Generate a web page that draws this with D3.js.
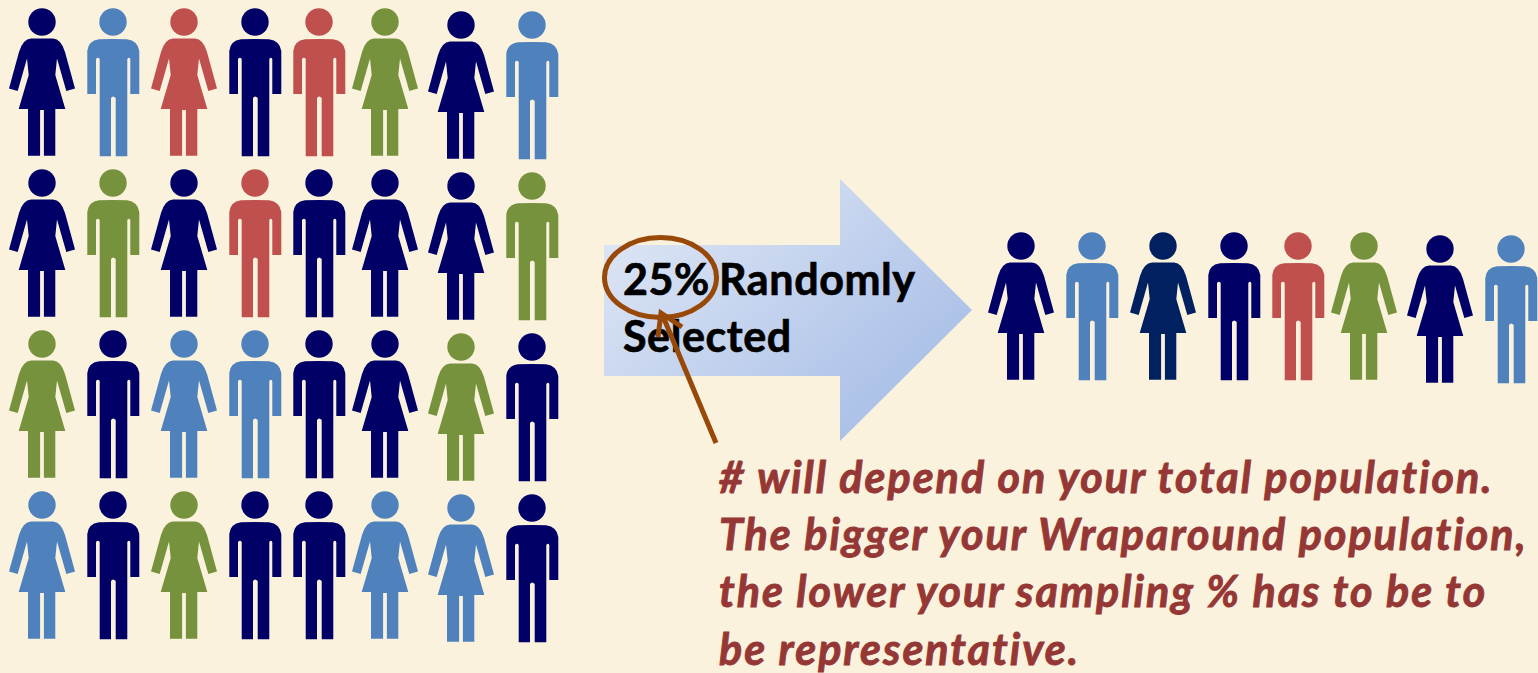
<!DOCTYPE html>
<html>
<head>
<meta charset="utf-8">
<style>
  html, body { margin: 0; padding: 0; background: #fbf2dd; overflow: hidden; }
  svg { display: block; }
</style>
<script src="https://cdn.jsdelivr.net/npm/d3@7"></script>
</head>
<body>
<svg width="1538" height="673"></svg>
<script>
(function () {
  'use strict';

  // w = woman, m = man. n navy, b blue, r red, g green, d dark navy
  var genders = ['w', 'm', 'w', 'm', 'm', 'w', 'w', 'm'];
  var populationColors = [
    ['n', 'b', 'r', 'n', 'r', 'g', 'n', 'b'],
    ['n', 'g', 'n', 'r', 'n', 'n', 'n', 'g'],
    ['g', 'n', 'b', 'b', 'n', 'n', 'g', 'n'],
    ['b', 'n', 'g', 'n', 'n', 'b', 'b', 'n']
  ];
  var sampleColors = ['n', 'b', 'd', 'n', 'r', 'g', 'n', 'b'];
  var palette = { n: '#000066', b: '#4f81bd', r: '#c0504d', g: '#76923c', d: '#002060' };

  var arrowLines = ['25% Randomly', 'Selected'];
  var noteLines = [
    '# will depend on your total population.',
    'The bigger your Wraparound population,',
    'the lower your sampling % has to be to',
    'be representative.'
  ];

  var svg = d3.select('svg');
  var defs = svg.append('defs');

  var grad = defs.append('linearGradient').attr('id', 'arrowFill')
    .attr('x1', '0%').attr('y1', '15%').attr('x2', '85%').attr('y2', '85%');
  grad.append('stop').attr('offset', '0%').attr('stop-color', '#dfe7f5');
  grad.append('stop').attr('offset', '100%').attr('stop-color', '#a9bfe7');

  var x = d3.scaleOrdinal().domain(d3.range(8))
    .range([42, 113, 184, 255, 319, 385, 461, 532]);
  var y = d3.scalePoint().domain(d3.range(4)).range([22, 505]);
  var colDrop = d3.scaleOrdinal().domain(d3.range(8))
    .range([0, 0, 0, 0, 0, 0, 3, 3]);

  var womanPath = 'M-11,16.6 L11,16.6 Q19,17 23,30 L33,66.6 L24.3,69 L15,36.6 L13.3,53 L23.3,87 ' +
    'L13.3,87 L13.3,133.7 L1.9,133.7 L1.9,88 L-1.9,88 L-1.9,133.7 L-14,133.7 L-14,87 L-23.3,87 L-13.3,53 ' +
    'L-15,36.6 L-24.3,69 L-33,66.6 L-23,30 Q-19,17 -11,16.6 Z';
  var manPath = 'M-14,17.3 Q0,16.5 14,17.3 Q25,19 26.3,29 L26.3,72 L17.3,72 L17.3,37 Q16,34.5 14.3,37 L14.3,134.3 ' +
    'L2.7,134.3 L2.7,76 Q0,73 -2,76 L-2,134.3 L-13.3,134.3 L-13.3,37 Q-15,34.5 -17,37 L-17,72 L-25.7,72 L-25.7,29 ' +
    'Q-25,19 -14,17.3 Z';

  function person(g, gender, color, px, py) {
    var p = g.append('g').attr('transform', 'translate(' + px + ',' + py + ')').attr('fill', palette[color]);
    p.append('circle').attr('r', 13.7);
    p.append('path').attr('d', gender === 'w' ? womanPath : manPath);
  }

  var crowd = svg.append('g');
  populationColors.forEach(function (row, r) {
    row.forEach(function (c, i) {
      person(crowd, genders[i], c, x(i), y(r) + colDrop(i));
    });
  });

  var sample = svg.append('g').attr('transform', 'translate(979,224)');
  sampleColors.forEach(function (c, i) {
    person(sample, genders[i], c, x(i), y(0) + colDrop(i));
  });

  // block arrow
  svg.append('path')
    .attr('d', 'M604,245 L840,245 L840,179 L972,310 L840,441 L840,376 L604,376 Z')
    .attr('fill', 'url(#arrowFill)');

  svg.append('g').selectAll('text').data(arrowLines).join('text')
    .attr('x', 623)
    .attr('y', function (d, i) { return 295 + i * 57; })
    .attr('font-family', 'Lato, sans-serif')
    .attr('font-weight', 700)
    .attr('font-size', 43)
    .attr('fill', '#000')
    .attr('stroke', '#000')
    .attr('stroke-width', 0.7)
    .attr('letter-spacing', 0.6)
    .attr('word-spacing', -2)
    .text(function (d) { return d; });

  // circle around the 25% and its pointer
  svg.append('ellipse')
    .attr('cx', 660.5).attr('cy', 277.5).attr('rx', 56).attr('ry', 40)
    .attr('fill', 'none').attr('stroke', '#984807').attr('stroke-width', 5);
  svg.append('path')
    .attr('d', 'M716,443 L662,314 M658,337 L661,313 L682,327')
    .attr('fill', 'none').attr('stroke', '#984807').attr('stroke-width', 5);

  svg.append('g').selectAll('text').data(noteLines).join('text')
    .attr('x', 719)
    .attr('y', function (d, i) { return 492.5 + i * 57.4; })
    .attr('font-family', 'Lato, sans-serif')
    .attr('font-weight', 700)
    .attr('font-style', 'italic')
    .attr('font-size', 43)
    .attr('letter-spacing', 2)
    .attr('stroke', '#953735')
    .attr('stroke-width', 0.9)
    .attr('fill', '#953735')
    .text(function (d) { return d; });
})();
</script>
</body>
</html>
